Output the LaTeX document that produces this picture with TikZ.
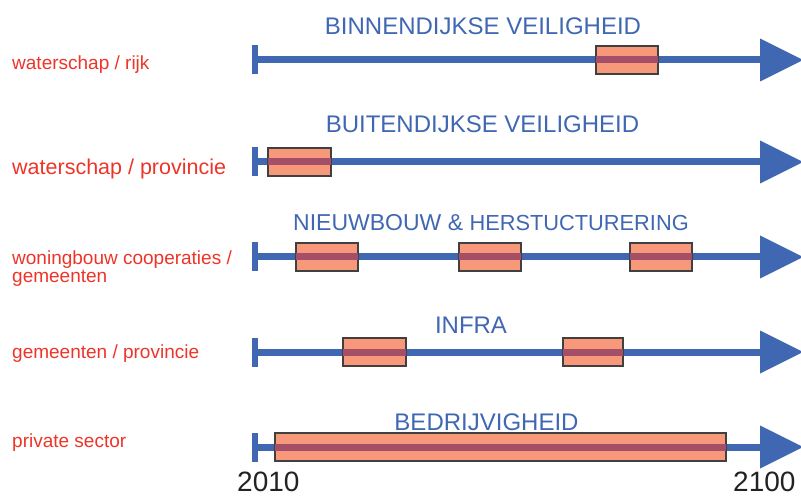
\documentclass[tikz,border=0pt]{standalone}
\usepackage{fontspec}
\setmainfont{Liberation Sans}
\usetikzlibrary{calc}
\definecolor{tlblue}{RGB}{64,103,178}
\definecolor{lblred}{RGB}{238,52,40}
\definecolor{boxfill}{RGB}{247,152,122}
\definecolor{stripe}{RGB}{165,78,104}
\definecolor{boxline}{RGB}{64,64,64}
\definecolor{yeargray}{RGB}{34,34,34}
\newcommand\headat[1]{\fill[tlblue] (#1) ++(0,-21.5) -- ++(43,21.5) -- ++(-43,21.5) -- cycle;}
\newcommand\stripein[1]{\fill[stripe] ($(#1.west)+(0.6,-3.5)$) rectangle ($(#1.east)+(-0.6,3.5)$);}
\begin{document}
\begin{tikzpicture}[x=1pt,y=-1pt,
  tl/.style={draw=tlblue,line width=7pt},
  tickbox/.style={fill=tlblue,inner sep=0pt,minimum width=6.5pt,minimum height=29pt},
  period/.style={draw=boxline,line width=1.2pt,fill=boxfill,inner sep=0pt,minimum height=28pt},
  ttl/.style={text=tlblue,inner sep=0pt,anchor=base,font=\fontsize{24}{28}\selectfont},
  lbl/.style={text=lblred,inner sep=0pt,anchor=base west,font=\fontsize{19}{22}\selectfont},
  yr/.style={text=yeargray,inner sep=0pt,anchor=base west,font=\fontsize{28}{32}\selectfont}]
\useasboundingbox (0,0) rectangle (801,497);
% row 1
\coordinate (s1) at (255,60); \coordinate (e1) at (760,60);
\draw[tl] (s1) -- (e1); \node[tickbox] (t1) at (s1) {}; \headat{e1}
\node[period,minimum width=62pt] (b11) at (627,60) {}; \stripein{b11}
\node[ttl] (h1) at (483,35) {BINNENDIJKSE VEILIGHEID};
\node[lbl] (l1) at (12,70) {waterschap / rijk};
% row 2
\coordinate (s2) at (255,162); \coordinate (e2) at (760,162);
\draw[tl] (s2) -- (e2); \node[tickbox] (t2) at (s2) {}; \headat{e2}
\node[period,minimum width=63pt] (b21) at (299.5,162) {}; \stripein{b21}
\node[ttl] (h2) at (482.5,133) {BUITENDIJKSE VEILIGHEID};
\node[lbl,font=\fontsize{21.5}{24}\selectfont] (l2) at (12,175) {waterschap / provincie};
% row 3
\coordinate (s3) at (255,257); \coordinate (e3) at (760,257);
\draw[tl] (s3) -- (e3); \node[tickbox] (t3) at (s3) {}; \headat{e3}
\node[period,minimum width=62pt] (b31) at (327,257) {}; \stripein{b31}
\node[period,minimum width=62pt] (b32) at (490,257) {}; \stripein{b32}
\node[period,minimum width=62pt] (b33) at (661,257) {}; \stripein{b33}
\node[ttl,anchor=base west] (h3) at (293,231) {\fontsize{23}{28}\selectfont NIEUWBOUW \&\ \fontsize{21.8}{28}\selectfont HERSTUCTURERING};
\node[lbl] (l3a) at (12,265) {woningbouw cooperaties /};
\node[lbl] (l3b) at (12,283) {gemeenten};
% row 4
\coordinate (s4) at (255,352); \coordinate (e4) at (760,352);
\draw[tl] (s4) -- (e4); \node[tickbox] (t4) at (s4) {}; \headat{e4}
\node[period,minimum width=63pt] (b41) at (374.5,352) {}; \stripein{b41}
\node[period,minimum width=60pt] (b42) at (593,352) {}; \stripein{b42}
\node[ttl] (h4) at (471,334) {INFRA};
\node[lbl] (l4) at (12,358) {gemeenten / provincie};
% row 5
\coordinate (s5) at (255,447); \coordinate (e5) at (760,447);
\draw[tl] (s5) -- (e5); \node[tickbox] (t5) at (s5) {}; \headat{e5}
\node[period,minimum width=451pt] (b51) at (500.5,447) {}; \stripein{b51}
\node[ttl] (h5) at (486.5,430) {BEDRIJVIGHEID};
\node[lbl] (l5) at (12,447) {private sector};
% years
\node[yr] (y1) at (237,491) {2010};
\node[yr] (y2) at (733,491) {2100};
\end{tikzpicture}
\end{document}
